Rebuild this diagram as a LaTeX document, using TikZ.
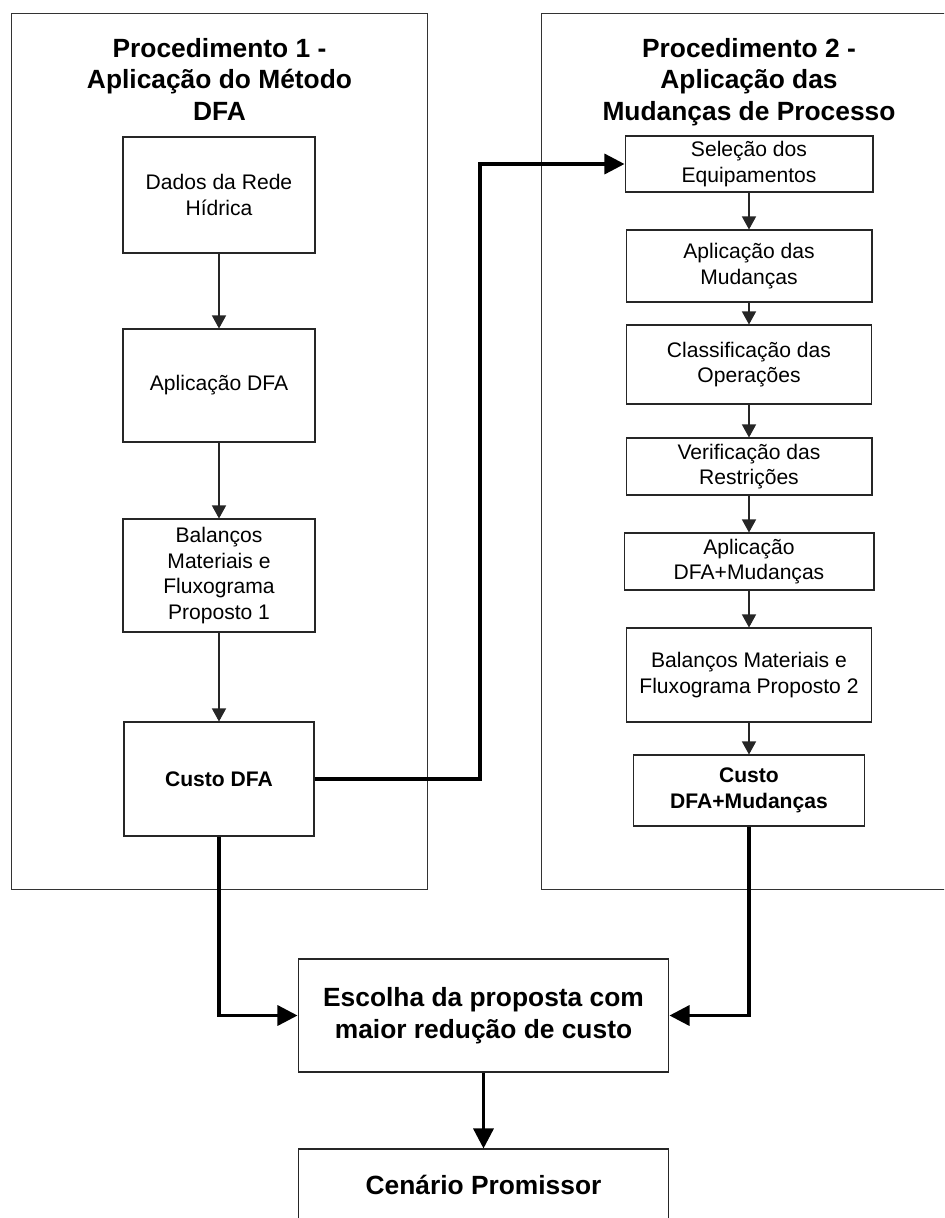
\documentclass[tikz,border=0pt]{standalone}
\usepackage{fontspec}
\setmainfont{Liberation Sans}
\usetikzlibrary{arrows.meta}

\begin{document}
\begin{tikzpicture}[x=0.02cm, y=-0.02cm,
  frame/.style={draw=black!80, line width=0.6pt, inner sep=0pt},
  title/.style={anchor=north, align=center, inner sep=0pt,
    font=\fontsize{15}{17.9}\selectfont\bfseries},
  box/.style={draw=black!85, line width=0.6pt, fill=white, align=center, inner sep=0pt,
    font=\fontsize{12}{14.5}\selectfont},
  bigbox/.style={box, font=\fontsize{15}{18.2}\selectfont\bfseries},
  thin/.style={draw=black!85, line width=0.6pt, -{Triangle[length=7.4pt, width=8pt]}},
  thick/.style={draw=black, line width=1.9pt, -{Triangle[length=11.4pt, width=11.4pt]}}]

\useasboundingbox (0,0) rectangle (944,1218);
\clip (0,0) rectangle (944,1218);

% two procedure frames
\node[frame, minimum width=8.34cm, minimum height=17.54cm] (frameA) at (219.5,451.5) {};
\node[frame, minimum width=8.38cm, minimum height=17.54cm] (frameB) at (750.5,451.5) {};
\node[title] (titleA) at (219.5,38) {Procedimento 1 -\\Aplicação do Método\\DFA};
\node[title] (titleB) at (749,38) {Procedimento 2 -\\Aplicação das\\Mudanças de Processo};

% procedure 1 steps
\node[box, minimum width=3.84cm, minimum height=2.32cm] (dados) at (219,195) {Dados da Rede\\Hídrica};
\node[box, minimum width=3.84cm, minimum height=2.26cm] (aplic) at (219,385.5) {Aplicação DFA};
\node[box, minimum width=3.84cm, minimum height=2.26cm] (balA) at (219,575.5) {Balanços\\Materiais e\\Fluxograma\\Proposto 1};
\node[box, minimum width=3.80cm, minimum height=2.28cm, font=\fontsize{12}{14.5}\selectfont\bfseries] (custoA) at (219,779) {Custo DFA};

% procedure 2 steps
\node[box, minimum width=4.96cm, minimum height=1.12cm] (selec) at (749,164) {Seleção dos\\Equipamentos};
\node[box, minimum width=4.92cm, minimum height=1.44cm] (mud) at (749,266) {Aplicação das\\Mudanças};
\node[box, minimum width=4.90cm, minimum height=1.58cm] (classif) at (749,364.5) {Classificação das\\Operações};
\node[box, minimum width=4.92cm, minimum height=1.14cm] (verif) at (749,466.5) {Verificação das\\Restrições};
\node[box, minimum width=5.00cm, minimum height=1.14cm] (aplicB) at (749,561.5) {Aplicação\\DFA+Mudanças};
\node[box, minimum width=4.90cm, minimum height=1.88cm] (balB) at (749,675) {Balanços Materiais e\\Fluxograma Proposto 2};
\node[box, minimum width=4.62cm, minimum height=1.42cm, font=\fontsize{12}{14.8}\selectfont\bfseries] (custoB) at (749,790.5) {Custo\\DFA+Mudanças};

% final decision
\node[bigbox, minimum width=7.42cm, minimum height=2.26cm] (escolha) at (483.5,1015.5) {Escolha da proposta com\\maior redução de custo};
\node[bigbox, minimum width=7.42cm, minimum height=1.44cm] (cenario) at (483.5,1185) {Cenário Promissor};

% thin connectors
\draw[thin] (dados) -- (aplic);
\draw[thin] (aplic) -- (balA);
\draw[thin] (balA) -- (custoA);
\draw[thin] (selec) -- (mud);
\draw[thin] (mud) -- (classif);
\draw[thin] (classif) -- (verif);
\draw[thin] (verif) -- (aplicB);
\draw[thin] (aplicB) -- (balB);
\draw[thin] (balB) -- (custoB);

% thick connectors
\coordinate (bend) at (480,0);
\draw[thick] (custoA.east) -- (custoA.east -| bend) -- (bend |- selec.west) -- (selec.west);
\draw[thick] (custoA.south) |- (escolha.west);
\draw[thick] (custoB.south) |- (escolha.east);
\draw[thick] (escolha) -- (cenario);
\end{tikzpicture}
\end{document}
